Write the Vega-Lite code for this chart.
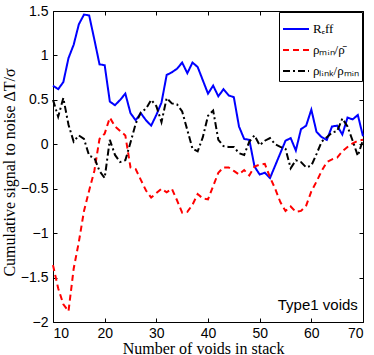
{
  "$schema": "https://vega.github.io/schema/vega-lite/v6.json",
  "width": 310,
  "height": 311,
  "autosize": {"type": "none"},
  "padding": {"left": 53, "top": 11, "right": 11, "bottom": 33},
  "background": "white",
  "config": {
    "view": {"stroke": "#000000", "strokeWidth": 1},
    "axis": {"grid": false, "domain": false, "labelFont": "Liberation Sans", "labelFontSize": 14, "labelColor": "#000", "tickColor": "#000", "tickSize": -4, "labelPadding": 9, "titleFont": "Liberation Serif", "titleFontSize": 16, "titleFontWeight": "normal", "titleColor": "#000"}
  },
  "data": {"values": [
    {"n":10,"reff":0.66,"rmin":-1.36,"rlink":0.50},
    {"n":11,"reff":0.62,"rmin":-1.62,"rlink":0.31},
    {"n":12,"reff":0.70,"rmin":-1.80,"rlink":0.52},
    {"n":13,"reff":0.97,"rmin":-1.88,"rlink":0.22},
    {"n":14,"reff":1.12,"rmin":-1.40,"rlink":0.03},
    {"n":15,"reff":1.35,"rmin":-1.10,"rlink":0.10},
    {"n":16,"reff":1.46,"rmin":-0.75,"rlink":0.06},
    {"n":17,"reff":1.45,"rmin":-0.52,"rlink":-0.13},
    {"n":18,"reff":1.18,"rmin":-0.30,"rlink":-0.15},
    {"n":19,"reff":0.90,"rmin":0.06,"rlink":-0.30},
    {"n":20,"reff":0.89,"rmin":0.12,"rlink":-0.38},
    {"n":21,"reff":0.48,"rmin":0.30,"rlink":0.05},
    {"n":22,"reff":0.44,"rmin":0.20,"rlink":-0.12},
    {"n":23,"reff":0.50,"rmin":0.15,"rlink":-0.20},
    {"n":24,"reff":0.57,"rmin":0.10,"rlink":-0.18},
    {"n":25,"reff":0.35,"rmin":-0.26,"rlink":0.02},
    {"n":26,"reff":0.27,"rmin":-0.28,"rlink":0.23},
    {"n":27,"reff":0.35,"rmin":-0.40,"rlink":0.36},
    {"n":28,"reff":0.27,"rmin":-0.52,"rlink":0.40},
    {"n":29,"reff":0.21,"rmin":-0.60,"rlink":0.50},
    {"n":30,"reff":0.33,"rmin":-0.55,"rlink":0.43},
    {"n":31,"reff":0.47,"rmin":-0.50,"rlink":0.25},
    {"n":32,"reff":0.78,"rmin":-0.54,"rlink":0.52},
    {"n":33,"reff":0.81,"rmin":-0.50,"rlink":0.46},
    {"n":34,"reff":0.85,"rmin":-0.63,"rlink":0.45},
    {"n":35,"reff":0.92,"rmin":-0.77,"rlink":0.37},
    {"n":36,"reff":0.80,"rmin":-0.76,"rlink":0.16},
    {"n":37,"reff":0.92,"rmin":-0.68,"rlink":-0.05},
    {"n":38,"reff":0.87,"rmin":-0.56,"rlink":-0.08},
    {"n":39,"reff":0.72,"rmin":-0.61,"rlink":0.08},
    {"n":40,"reff":0.57,"rmin":-0.62,"rlink":0.32},
    {"n":41,"reff":0.66,"rmin":-0.47,"rlink":0.38},
    {"n":42,"reff":0.54,"rmin":-0.32,"rlink":0.05},
    {"n":43,"reff":0.62,"rmin":-0.26,"rlink":-0.02},
    {"n":44,"reff":0.55,"rmin":-0.26,"rlink":-0.03},
    {"n":45,"reff":0.53,"rmin":-0.30,"rlink":-0.03},
    {"n":46,"reff":0.20,"rmin":-0.34,"rlink":-0.10},
    {"n":47,"reff":0.06,"rmin":-0.29,"rlink":-0.12},
    {"n":48,"reff":0.05,"rmin":-0.35,"rlink":0.03},
    {"n":49,"reff":-0.25,"rmin":-0.25,"rlink":0.10},
    {"n":50,"reff":-0.34,"rmin":-0.23,"rlink":-0.01},
    {"n":51,"reff":-0.32,"rmin":-0.22,"rlink":0.04},
    {"n":52,"reff":-0.38,"rmin":-0.37,"rlink":0.07},
    {"n":53,"reff":-0.24,"rmin":-0.50,"rlink":0.00},
    {"n":54,"reff":-0.10,"rmin":-0.65,"rlink":-0.03},
    {"n":55,"reff":0.04,"rmin":-0.75,"rlink":-0.05},
    {"n":56,"reff":0.07,"rmin":-0.70,"rlink":-0.27},
    {"n":57,"reff":-0.07,"rmin":-0.76,"rlink":-0.18},
    {"n":58,"reff":0.17,"rmin":-0.75,"rlink":-0.20},
    {"n":59,"reff":0.21,"rmin":-0.69,"rlink":-0.26},
    {"n":60,"reff":0.39,"rmin":-0.53,"rlink":-0.24},
    {"n":61,"reff":0.14,"rmin":-0.42,"rlink":-0.11},
    {"n":62,"reff":0.08,"rmin":-0.30,"rlink":0.03},
    {"n":63,"reff":0.05,"rmin":-0.20,"rlink":0.08},
    {"n":64,"reff":0.20,"rmin":-0.17,"rlink":0.13},
    {"n":65,"reff":0.21,"rmin":-0.15,"rlink":0.15},
    {"n":66,"reff":0.11,"rmin":-0.08,"rlink":0.29},
    {"n":67,"reff":0.30,"rmin":-0.03,"rlink":0.20},
    {"n":68,"reff":0.28,"rmin":0.01,"rlink":0.04},
    {"n":69,"reff":0.33,"rmin":0.04,"rlink":-0.13},
    {"n":70,"reff":0.09,"rmin":0.05,"rlink":0.05}
  ]},
  "layer": [
    {
      "transform": [{"fold": ["reff", "rmin", "rlink"], "as": ["series", "value"]}],
      "mark": {"type": "line", "strokeWidth": 2},
      "encoding": {
        "x": {"field": "n", "type": "quantitative", "scale": {"domain": [10, 70], "nice": false, "zero": false},
              "axis": {"values": [10, 20, 30, 40, 50, 60, 70], "labelPadding": 8, "title": "Number of voids in stack", "titleBaseline": "alphabetic", "titleY": 31, "titleX": 150}},
        "y": {"field": "value", "type": "quantitative", "scale": {"domain": [-2, 1.5], "nice": false, "zero": false},
              "axis": {"values": [-2, -1.5, -1, -0.5, 0, 0.5, 1, 1.5], "format": "~g", "title": "Cumulative signal to noise ΔT/σ", "titleBaseline": "alphabetic", "titleX": -39, "titleY": 161, "titleAlign": "center", "titleAngle": 270}},
        "color": {"field": "series", "type": "nominal",
                  "scale": {"domain": ["reff", "rmin", "rlink"], "range": ["#0000ff", "#ff0000", "#000000"]},
                  "legend": {"title": null, "orient": "top-right", "offset": 1, "labelExpr": "datum.value == 'reff' ? 'Rₑff' : datum.value == 'rmin' ? 'ρₘᵢₙ/ρ̄' : 'ρₗᵢₙₖ/ρₘᵢₙ'", "symbolType": "stroke", "symbolSize": 676, "symbolStrokeWidth": 2, "labelFont": "Liberation Serif", "labelFontSize": 13, "labelColor": "#000", "labelOffset": 3, "padding": 3, "rowPadding": 0, "strokeColor": "#000", "fillColor": "#ffffff", "cornerRadius": 0}},
        "strokeDash": {"field": "series", "type": "nominal",
                  "scale": {"domain": ["reff", "rmin", "rlink"], "range": [[1, 0], [6, 4], [7, 3, 2, 3]]},
                  "legend": {"title": null, "orient": "top-right", "offset": 1, "labelExpr": "datum.value == 'reff' ? 'Rₑff' : datum.value == 'rmin' ? 'ρₘᵢₙ/ρ̄' : 'ρₗᵢₙₖ/ρₘᵢₙ'", "symbolType": "stroke", "symbolSize": 676, "symbolStrokeWidth": 2, "labelFont": "Liberation Serif", "labelFontSize": 13, "labelColor": "#000", "labelOffset": 3, "padding": 3, "rowPadding": 0, "strokeColor": "#000", "fillColor": "#ffffff", "cornerRadius": 0}}
      }
    },
    {
      "transform": [{"fold": ["reff", "rmin", "rlink"], "as": ["series", "value"]}],
      "mark": {"type": "point", "opacity": 0},
      "encoding": {
        "x": {"field": "n", "type": "quantitative", "axis": {"orient": "top", "values": [10, 20, 30, 40, 50, 60, 70], "labels": false, "title": null}},
        "y": {"field": "value", "type": "quantitative", "axis": {"orient": "right", "values": [-2, -1.5, -1, -0.5, 0, 0.5, 1, 1.5], "labels": false, "title": null}}
      }
    },
    {
      "data": {"values": [{"label": "Type1 voids"}]},
      "mark": {"type": "text", "align": "right", "baseline": "alphabetic", "font": "Liberation Sans", "fontSize": 15, "fill": "#000"},
      "encoding": {
        "text": {"field": "label"},
        "x": {"datum": 69, "type": "quantitative", "axis": null},
        "y": {"datum": -1.87, "type": "quantitative", "axis": null}
      }
    }
  ],
  "resolve": {"axis": {"x": "independent", "y": "independent"}}
}
